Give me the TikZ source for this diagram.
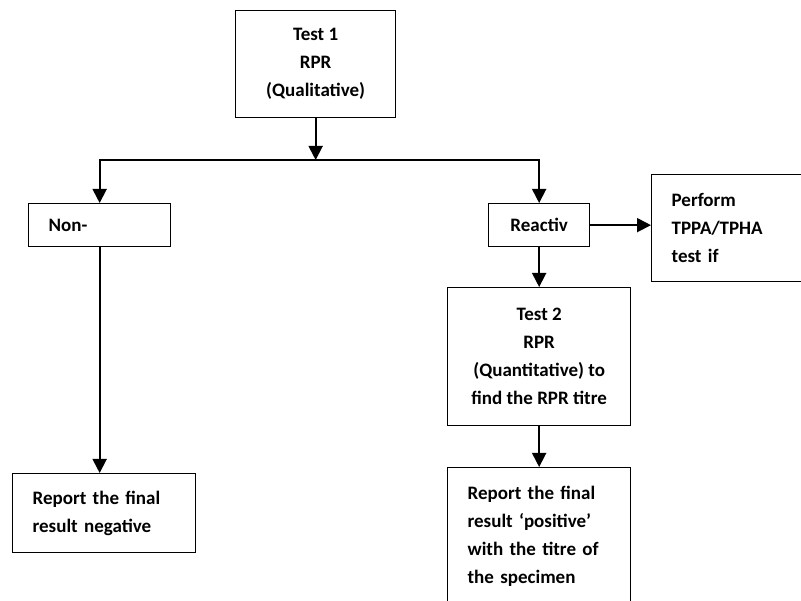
\documentclass[tikz,border=0pt]{standalone}
\usepackage{fontspec}
\setmainfont{Carlito}
\usetikzlibrary{arrows.meta}
\begin{document}
\begin{tikzpicture}[x=1pt,y=-1pt,
  box/.style={draw, line width=1.3pt, rectangle, font=\fontsize{19}{28}\selectfont\bfseries},
  lbox/.style={box, align=left, inner xsep=20pt, anchor=north west},
  cbox/.style={box, align=center, anchor=north west, inner xsep=2pt},
  arr/.style={line width=1.8pt, -{Triangle[length=14pt,width=14pt]}}]
\useasboundingbox (0,0) rectangle (801,601);
\clip (0,0) rectangle (801,601);
\fill[white] (0,0) rectangle (801,601);
\node[cbox, minimum width=160, minimum height=107] (t1) at (235,10) {Test 1\\RPR\\(Qualitative)};
\node[lbox, minimum width=142, minimum height=43, text width=102] (non) at (28,203) {Non-};
\node[cbox, minimum width=101, minimum height=43] (rea) at (488,203) {Reactiv};
\node[lbox, minimum width=170, minimum height=107, text width=130, inner xsep=19pt] (perf) at (651,174) {Perform\\TPPA/TPHA\\test if};
\node[cbox, minimum width=183, minimum height=138] (t2) at (447,287) {Test 2\\RPR\\(Quantitative) to\\find the RPR titre};
\node[lbox, minimum width=183, minimum height=79, text width=143] (rep1) at (12,473) {Report the final\\result negative};
\node[lbox, minimum width=183, minimum height=138, text width=143] (rep2) at (447,467) {Report the final\\result ‘positive’\\with the titre of\\the specimen};
\coordinate (j) at (t1.south |- 0,160);
\draw[arr] (t1.south) -- (j);
\draw[arr] (j) -| (non.north);
\draw[arr] (j) -| (rea.north);
\draw[arr] (rea.east) -- (perf.west |- rea.east);
\draw[arr] (rea.south) -- (t2.north);
\draw[arr] (t2.south) -- (rep2.north);
\draw[arr] (non.south) -- (rep1.north -| non.south);
\end{tikzpicture}
\end{document}
